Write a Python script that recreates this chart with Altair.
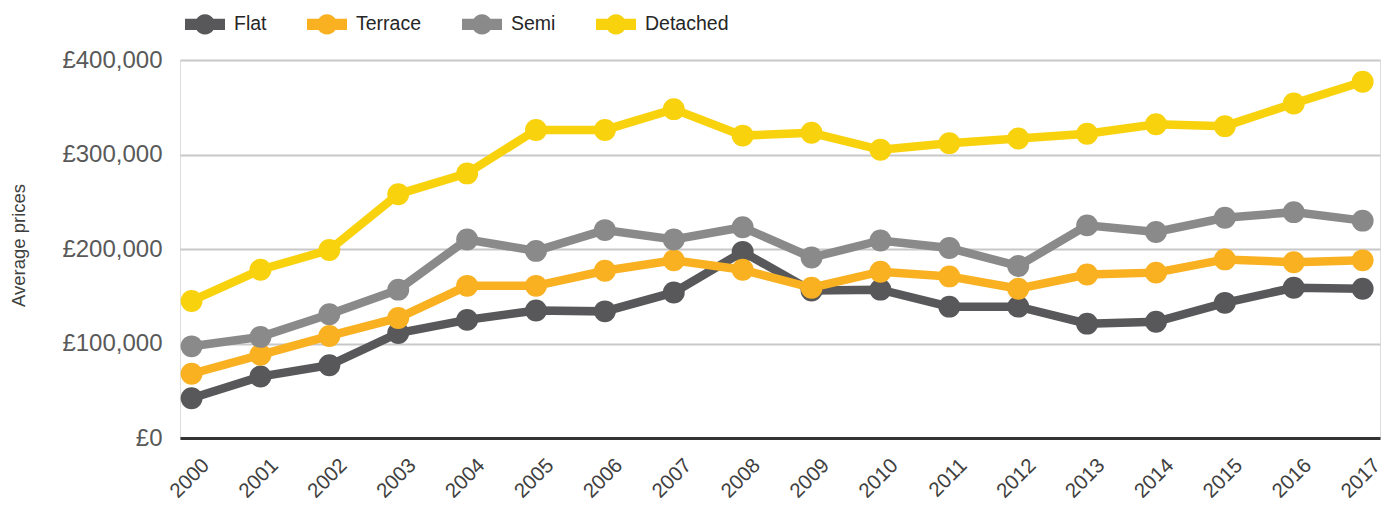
import altair as alt
import pandas as pd

years = [str(y) for y in range(2000, 2018)]
series_names = ["Flat", "Terrace", "Semi", "Detached"]
series_colors = ["#58585A", "#F9B122", "#8A8A8A", "#F9D20E"]

flat = [42000, 65000, 77000, 111000, 125000, 135000, 134000, 154000, 197000,
        156000, 157000, 139000, 139000, 121000, 123000, 143000, 159000, 158000]
terrace = [68000, 88000, 108000, 127000, 161000, 161000, 177000, 188000, 178000,
           159000, 176000, 171000, 158000, 173000, 175000, 189000, 186000, 188000]
semi = [97000, 107000, 131000, 157000, 210000, 198000, 220000, 210000, 223000,
        191000, 209000, 201000, 182000, 225000, 218000, 233000, 239000, 230000]
detached = [145000, 178000, 199000, 258000, 280000, 326000, 326000, 348000, 320000,
            323000, 305000, 312000, 317000, 322000, 332000, 330000, 354000, 377000]

y_ticks = [0, 100000, 200000, 300000, 400000]

rows = []
for name, vals in zip(series_names, [flat, terrace, semi, detached]):
    for yr, v in zip(years, vals):
        rows.append({"year": yr, "type": name, "price": v, "k": series_names.index(name)})
df = pd.DataFrame(rows)

FONT = "Liberation Sans"
scale = alt.Scale(domain=series_names, range=series_colors)

x_enc = alt.X(
    "year:O",
    scale=alt.Scale(type="point", padding=0.21, align=0.4),
    axis=alt.Axis(
        title=None, labelAngle=315, labelAlign="right", labelBaseline="middle",
        labelOffset=14, labelPadding=24, ticks=False, grid=False,
        labelFont=FONT, labelFontSize=20.5, labelColor="#404040",
        domainColor="#333333", domainWidth=3,
    ),
)
y_enc = alt.Y(
    "price:Q",
    scale=alt.Scale(domain=[0, 400000], nice=False),
    axis=alt.Axis(
        title="Average prices", values=y_ticks,
        labelExpr="'£' + format(datum.value, ',')",
        labelFont=FONT, labelFontSize=24, labelColor="#595959", labelPadding=18,
        ticks=False, domain=False, grid=True, gridColor="#C8C8C8", gridWidth=2,
        titleFont=FONT, titleFontSize=18.5, titleFontWeight="normal", titleColor="#404040",
        titleAngle=270, titleX=-162, titleY=185, titleBaseline="middle", titleAlign="center",
    ),
)

legend_path = ("M-1,-0.28 L-0.42,-0.28 A0.5,0.5 0 0 1 0.42,-0.28 L1,-0.28 L1,0.28 "
               "L0.42,0.28 A0.5,0.5 0 0 1 -0.42,0.28 L-1,0.28 Z")

legend = alt.Legend(
    title=None, orient="none", direction="horizontal",
    legendX=5, legendY=-56, padding=0,
    symbolType=legend_path, symbolSize=1600, symbolStrokeWidth=0,
    symbolOpacity=1,
    labelFont=FONT, labelFontSize=19.5, labelColor="#262626",
    labelOffset=9, columnPadding=40, labelLimit=300,
)

base = alt.Chart(df)

lines = base.mark_line(strokeWidth=8.5).encode(
    x=x_enc, y=y_enc,
    stroke=alt.Stroke("type:N", scale=scale, legend=legend),
    detail="type:N",
)

points = base.mark_point(filled=True, size=480, opacity=1).encode(
    x=x_enc, y=y_enc,
    fill=alt.Fill("type:N", scale=scale, legend=legend),
    order="k:Q",
)

chart = alt.layer(lines, points).properties(
    width=1200, height=378,
    autosize=alt.AutoSizeParams(type="none"),
    padding={"left": 172, "top": 52, "right": 4, "bottom": 71},
).configure_view(stroke=None).configure(background="white")

chart.save("out.html", embed_options={"renderer": "svg", "actions": False})
